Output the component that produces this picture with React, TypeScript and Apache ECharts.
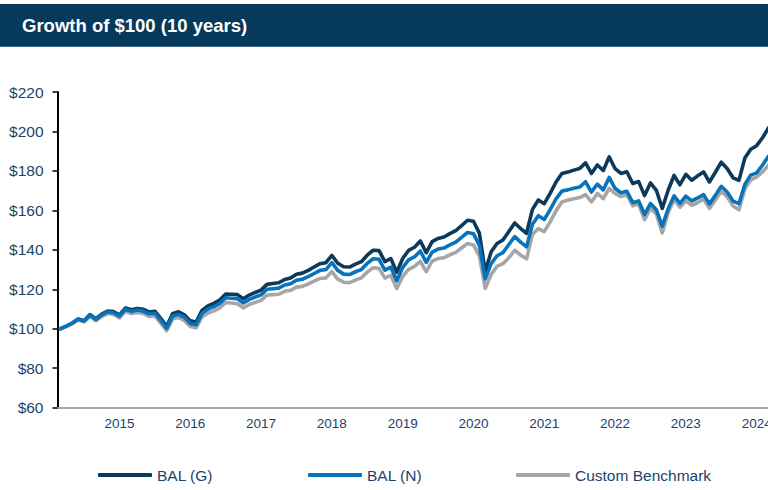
import React, { useEffect, useRef } from "react";
import * as echarts from "echarts";

// Monthly observations, March 2014 .. March 2024 (121 points)
const startYear = 2014;
const startMonth = 3;
const pointCount = 121;
const months: string[] = [];
for (let k = 0; k < pointCount; k++) {
  const m = startMonth - 1 + k;
  const y = startYear + Math.floor(m / 12);
  const mm = (m % 12) + 1;
  months.push(`${y}-${mm < 10 ? "0" + mm : mm}`);
}

const yearTicks = ["2015", "2016", "2017", "2018", "2019", "2020", "2021", "2022", "2023", "2024"];

const balG = [
  100.0, 101.4, 102.9, 105.0, 104.1, 107.2, 105.1, 107.4, 109.0, 108.7,
  107.0, 110.5, 109.6, 110.3, 109.9, 108.5, 108.9, 105.3, 101.3, 107.6,
  108.6, 107.1, 104.0, 103.4, 109.3, 111.6, 112.9, 114.6, 117.6, 117.5,
  117.3, 115.2, 117.1, 118.4, 119.6, 122.5, 122.9, 123.3, 125.0, 125.7,
  127.6, 128.2, 129.6, 131.3, 133.0, 133.5, 137.2, 133.2, 131.4, 131.3,
  132.8, 134.0, 137.3, 139.8, 139.6, 134.0, 135.6, 128.6, 135.6, 139.7,
  141.3, 144.5, 138.6, 144.2, 145.8, 146.5, 148.2, 149.7, 152.3, 155.0,
  154.5, 148.5, 129.0, 139.0, 143.2, 145.0, 149.3, 153.6, 150.8, 148.4,
  160.5, 165.3, 163.4, 168.6, 174.4, 178.7, 179.4, 180.4, 181.2, 184.1,
  178.7, 183.0, 180.2, 187.1, 181.2, 178.7, 179.6, 173.6, 174.6, 167.5,
  173.9, 170.2, 161.0, 170.2, 177.7, 173.0, 178.3, 175.3, 177.5, 179.5,
  174.4, 179.3, 184.4, 181.2, 176.5, 175.2, 186.5, 191.0, 192.8, 196.8,
  201.8,
];

const balN = [
  100.0, 101.3, 102.8, 104.8, 103.9, 106.9, 104.7, 107.0, 108.5, 108.1,
  106.4, 109.8, 108.8, 109.5, 109.0, 107.6, 107.9, 104.2, 100.2, 106.4,
  107.3, 105.8, 102.6, 102.0, 107.8, 110.0, 111.2, 112.8, 115.7, 115.5,
  115.2, 113.1, 114.9, 116.1, 117.2, 120.0, 120.3, 120.6, 122.2, 122.8,
  124.6, 125.1, 126.4, 128.0, 129.6, 130.0, 133.5, 129.6, 127.7, 127.5,
  128.9, 130.0, 133.1, 135.5, 135.2, 129.7, 131.2, 124.3, 131.0, 134.9,
  136.4, 139.4, 133.6, 138.9, 140.4, 140.9, 142.5, 143.9, 146.3, 148.8,
  148.2, 142.3, 125.3, 133.0, 137.0, 138.6, 142.7, 146.7, 143.9, 141.5,
  153.0, 157.3, 155.4, 160.4, 165.8, 169.8, 170.4, 171.2, 171.8, 174.5,
  169.3, 173.3, 170.4, 176.7, 171.2, 168.9, 169.7, 163.9, 164.8, 157.9,
  163.5, 160.3, 152.0, 160.8, 167.3, 163.5, 167.2, 164.8, 166.3, 168.0,
  163.3, 167.6, 172.2, 169.3, 164.7, 163.4, 173.2, 177.9, 179.0, 183.0,
  187.4,
];

const benchmark = [
  100.0, 101.1, 102.5, 104.4, 103.5, 106.3, 104.1, 106.3, 107.7, 107.3,
  105.5, 108.8, 107.7, 108.3, 107.8, 106.3, 106.6, 102.9, 99.0, 104.9,
  105.7, 104.2, 101.1, 100.5, 106.0, 108.0, 109.1, 110.6, 113.3, 113.1,
  112.7, 110.6, 112.3, 113.4, 114.4, 117.0, 117.3, 117.5, 119.0, 119.5,
  121.1, 121.5, 122.7, 124.1, 125.5, 125.8, 129.0, 125.2, 123.6, 123.4,
  124.7, 125.8, 128.7, 130.9, 130.6, 125.7, 127.1, 120.4, 126.5, 130.1,
  131.6, 134.1, 129.0, 134.3, 135.6, 136.0, 137.5, 138.7, 140.9, 143.2,
  142.5, 137.0, 120.5, 127.5, 131.6, 133.0, 136.0, 139.8, 137.3, 135.5,
  147.8, 150.8, 149.2, 154.2, 159.8, 164.3, 165.2, 165.9, 166.5, 168.0,
  164.3, 168.6, 166.0, 171.1, 168.6, 167.0, 167.8, 162.3, 163.2, 155.3,
  161.0, 158.2, 148.6, 158.8, 165.5, 161.6, 164.8, 162.6, 164.0, 165.8,
  161.0, 165.3, 169.6, 167.0, 162.2, 160.3, 170.8, 175.5, 177.0, 179.5,
  182.9,
];

const seriesNames = ["BAL (G)", "BAL (N)", "Custom Benchmark"];
const colors = { g: "#0c3a5d", n: "#0873bb", b: "#a6a6a6" };

const FONT = "'Liberation Sans', Arial, sans-serif";
const labelColor = "#1b4469";

export default function App() {
  const ref = useRef<HTMLDivElement>(null);

  useEffect(() => {
    if (!ref.current) return;
    const chart = echarts.init(ref.current, undefined, { renderer: "svg" });
    const lineStyle = (c: string) => ({ color: c, width: 3.6, join: "round", cap: "round" });
    const legendBase = {
      top: 467,
      padding: 0,
      orient: "horizontal",
      icon: "roundRect",
      itemWidth: 54,
      itemHeight: 4,
      textStyle: { fontFamily: FONT, fontSize: 15.5, color: labelColor },
    };
    chart.setOption({
      animation: false,
      backgroundColor: "#ffffff",
      textStyle: { fontFamily: FONT },
      graphic: [
        {
          type: "rect",
          shape: { x: 0, y: 4, width: 768, height: 42.7 },
          style: { fill: "#063a5c" },
          silent: true,
        },
        {
          type: "text",
          x: 22,
          y: 25.8,
          style: {
            text: "Growth of $100 (10 years)",
            fill: "#ffffff",
            font: `bold 18.5px ${FONT}`,
            verticalAlign: "middle",
          },
          silent: true,
        },
      ],
      legend: [
        { ...legendBase, left: 98, data: [seriesNames[0]] },
        { ...legendBase, left: 308, data: [seriesNames[1]] },
        { ...legendBase, left: 516, data: [seriesNames[2]] },
      ],
      grid: { left: 57.5, top: 92, width: 121 * 5.9, height: 315.7, outerBoundsMode: "none", containLabel: false },
      xAxis: {
        type: "category",
        data: months,
        boundaryGap: true,
        axisLine: { show: true, lineStyle: { color: "#a6a6a6", width: 2 } },
        axisTick: { show: false },
        axisLabel: {
          interval: (_idx: number, val: string) => yearTicks.includes(val.slice(0, 4)) && val.endsWith("-01"),
          formatter: (val: string) => val.slice(0, 4),
          color: labelColor,
          fontSize: 13.5,
          fontFamily: FONT,
          margin: 9,
          hideOverlap: false,
        },
        splitLine: { show: false },
      },
      yAxis: {
        type: "value",
        min: 60,
        max: 220,
        interval: 20,
        axisLine: { show: true, lineStyle: { color: "#000000", width: 2 } },
        axisTick: { show: true, inside: false, length: 5, lineStyle: { color: "#000000", width: 1.5 } },
        axisLabel: {
          formatter: (v: number) => `$${v}`,
          color: labelColor,
          fontSize: 15.5,
          fontFamily: FONT,
          margin: 14,
        },
        splitLine: { show: false },
      },
      series: [
        { name: seriesNames[0], type: "line", data: balG, showSymbol: false, symbol: "none", color: colors.g, lineStyle: lineStyle(colors.g), z: 2 },
        { name: seriesNames[2], type: "line", data: benchmark, showSymbol: false, symbol: "none", color: colors.b, lineStyle: lineStyle(colors.b), z: 3 },
        { name: seriesNames[1], type: "line", data: balN, showSymbol: false, symbol: "none", color: colors.n, lineStyle: lineStyle(colors.n), z: 4 },
      ],
    });
    return () => chart.dispose();
  }, []);

  return (
    <div
      ref={ref}
      style={{ position: "fixed", left: 0, top: 0, width: 768, height: 490, overflow: "hidden", background: "#fff" }}
    />
  );
}
